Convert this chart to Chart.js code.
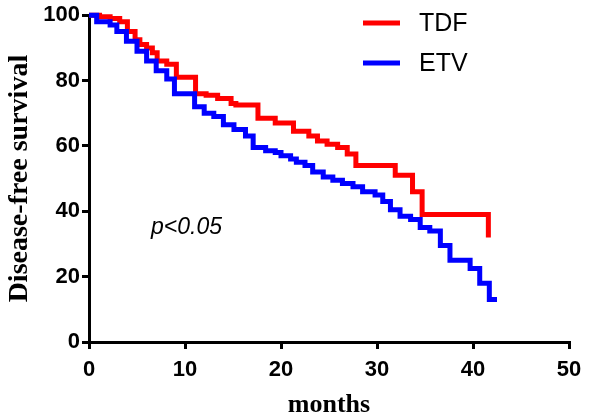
<!DOCTYPE html>
<html>
<head>
<meta charset="utf-8">
<script src="https://cdn.jsdelivr.net/npm/chart.js@4"></script>
<style>
  html, body { margin: 0; padding: 0; background: #fff; }
  #wrap { width: 596px; height: 414px; }
</style>
</head>
<body>
<div id="wrap"><canvas id="km"></canvas></div>
<script>
// Kaplan-Meier curves (months, % disease-free)
const tdfMonths = [0, 1.1, 2.2, 3.2, 4.0, 4.8, 5.3, 6.0, 6.6, 7.1, 8.1, 9.1, 11.1, 12.2, 13.4, 14.8, 15.3, 17.6, 19.4, 21.3,
  22.9, 23.8, 24.8, 25.9, 26.9, 27.8, 31.9, 33.7, 34.7, 41.6];
const tdfSurvival = [100, 99.5, 99, 98, 95, 92.5, 91, 90, 88.5, 86, 85, 81, 76, 75.5, 74.5, 73, 72.5, 68.5, 67, 64.5,
  63, 61.5, 60.5, 59.5, 57.5, 54, 51, 46, 39, 32];

const etvMonths = [0, 0.8, 2.2, 2.9, 3.9, 5.0, 6.0, 7.0, 8.1, 8.9, 11.0, 12.0, 13.0, 14.0, 15.1, 16.3, 17.1, 18.4, 19.4, 20.0,
  21.0, 21.6, 22.5, 23.3, 24.4, 25.4, 26.4, 27.5, 28.5, 29.8, 30.6, 31.4, 32.4, 33.5, 34.5, 35.5, 36.6, 37.6, 39.7, 40.7,
  41.7, 42.5];
const etvSurvival = [100, 98, 97, 95, 92, 89, 86, 83, 80.5, 76, 72, 70, 69, 66.5, 65, 63, 59.5, 58.5, 58, 57,
  56, 55, 54, 52, 50.5, 49.5, 48.5, 47.5, 46, 45, 43, 40.5, 38.5, 37.5, 35, 34, 29.5, 25, 22.5, 18,
  13, 13];

const xTicks = [0, 10, 20, 30, 40, 50];
const yTicks = [0, 20, 40, 60, 80, 100];
const pText = 'p<0.05';

const toPoints = (xs, ys) => xs.map((x, i) => ({ x, y: ys[i] }));

// legend drawn inside the plot, top right, plus the p value
const kmLegend = {
  id: 'kmLegend',
  afterDraw(chart) {
    const ctx = chart.ctx;
    const rows = [chart.data.datasets[0], chart.data.datasets[1]];
    ctx.save();
    ctx.font = '25px "Liberation Sans", Arial, sans-serif';
    ctx.textBaseline = 'middle';
    ctx.textAlign = 'left';
    rows.forEach((ds, i) => {
      const y = 23 + i * 40;
      ctx.strokeStyle = ds.borderColor;
      ctx.lineWidth = 5;
      ctx.beginPath();
      ctx.moveTo(363, y);
      ctx.lineTo(400, y);
      ctx.stroke();
      ctx.fillStyle = '#000';
      ctx.fillText(ds.label, 419, y + 1);
    });
    ctx.font = 'italic 23px "Liberation Sans", Arial, sans-serif';
    ctx.textBaseline = 'alphabetic';
    ctx.fillText(pText, 151, 234);
    ctx.restore();
  },
};

new Chart(document.getElementById('km'), {
  type: 'line',
  data: {
    datasets: [
      {
        label: 'TDF',
        data: toPoints(tdfMonths, tdfSurvival),
        borderColor: '#ff0000',
        borderWidth: 5,
        stepped: 'before',
        pointRadius: 0,
        fill: false,
        clip: false,
        order: 1,
      },
      {
        label: 'ETV',
        data: toPoints(etvMonths, etvSurvival),
        borderColor: '#0000ff',
        borderWidth: 5,
        stepped: 'before',
        pointRadius: 0,
        fill: false,
        clip: false,
        order: 0,
      },
    ],
  },
  options: {
    responsive: true,
    maintainAspectRatio: false,
    animation: false,
    devicePixelRatio: 1,
    layout: { padding: { top: 11, right: 27, left: 0, bottom: 0 } },
    plugins: {
      legend: { display: false },
      tooltip: { enabled: false },
    },
    scales: {
      x: {
        type: 'linear',
        min: 0,
        max: 50,
        afterFit: (s) => { s.height = 72; },
        afterBuildTicks: (s) => { s.ticks = xTicks.map((v) => ({ value: v })); },
        border: { display: true, color: '#000', width: 3 },
        grid: { display: true, drawOnChartArea: false, drawTicks: true, tickLength: 7, color: '#000', lineWidth: 3 },
        ticks: {
          color: '#000',
          padding: 8,
          font: { family: '"Liberation Sans", Arial, sans-serif', size: 22, weight: 'bold' },
        },
        title: {
          display: true,
          text: 'months',
          color: '#000',
          padding: { top: 0, bottom: -7 },
          font: { family: '"Liberation Serif", "Times New Roman", serif', size: 26, weight: 'bold' },
        },
      },
      y: {
        min: 0,
        max: 100,
        afterFit: (s) => { s.width = 89; },
        afterBuildTicks: (s) => { s.ticks = yTicks.map((v) => ({ value: v })); },
        border: { display: true, color: '#000', width: 3 },
        grid: { display: true, drawOnChartArea: false, drawTicks: true, tickLength: 7, color: '#000', lineWidth: 3 },
        ticks: {
          color: '#000',
          padding: 2,
          font: { family: '"Liberation Sans", Arial, sans-serif', size: 22, weight: 'bold' },
        },
        title: {
          display: true,
          text: 'Disease-free survival',
          color: '#000',
          padding: { top: 3, bottom: 0 },
          font: { family: '"Liberation Serif", "Times New Roman", serif', size: 28, weight: 'bold' },
        },
      },
    },
  },
  plugins: [kmLegend],
});
</script>
</body>
</html>
